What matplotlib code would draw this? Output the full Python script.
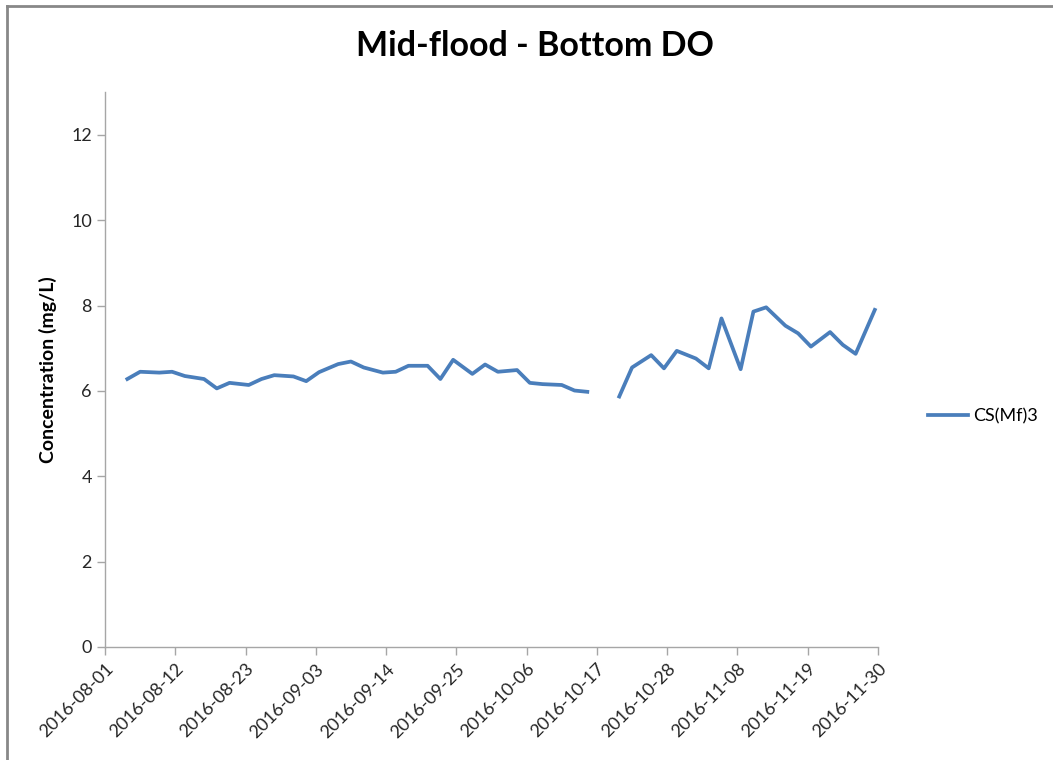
import numpy as np
import pandas as pd
import matplotlib
matplotlib.use("Agg")
import matplotlib.pyplot as plt
import matplotlib.dates as mdates
from matplotlib.lines import Line2D

plt.rcParams['font.family'] = ['Lato', 'DejaVu Sans']

# sampling dates (Tue/Thu/Sat), 2016-10-18 has no value
dates = pd.to_datetime([
    '2016-08-04', '2016-08-06', '2016-08-09', '2016-08-11', '2016-08-13',
    '2016-08-16', '2016-08-18', '2016-08-20', '2016-08-23', '2016-08-25',
    '2016-08-27', '2016-08-30', '2016-09-01', '2016-09-03', '2016-09-06',
    '2016-09-08', '2016-09-10', '2016-09-13', '2016-09-15', '2016-09-17',
    '2016-09-20', '2016-09-22', '2016-09-24', '2016-09-27', '2016-09-29',
    '2016-10-01', '2016-10-04', '2016-10-06', '2016-10-08', '2016-10-11',
    '2016-10-13', '2016-10-15', '2016-10-18', '2016-10-20', '2016-10-22',
    '2016-10-25', '2016-10-27', '2016-10-29', '2016-11-01', '2016-11-03',
    '2016-11-05', '2016-11-08', '2016-11-10', '2016-11-12', '2016-11-15',
    '2016-11-17', '2016-11-19', '2016-11-22', '2016-11-24', '2016-11-26',
    '2016-11-29',
])
do_bottom = np.array([
    6.28, 6.45, 6.43, 6.45, 6.35,
    6.28, 6.06, 6.19, 6.14, 6.28,
    6.37, 6.34, 6.23, 6.44, 6.63,
    6.69, 6.55, 6.43, 6.45, 6.59,
    6.59, 6.28, 6.73, 6.40, 6.62,
    6.45, 6.49, 6.19, 6.16, 6.14,
    6.01, 5.98, np.nan, 5.87, 6.55,
    6.84, 6.53, 6.94, 6.76, 6.53,
    7.70, 6.51, 7.86, 7.96, 7.53,
    7.35, 7.04, 7.38, 7.08, 6.87,
    7.90,
])
series_name = 'CS(Mf)3'
y_ticks = [0, 2, 4, 6, 8, 10, 12]

fig = plt.figure(figsize=(10.53, 7.6), dpi=100)
ax = fig.add_axes([0.0997, 0.1487, 0.7341, 0.7299])

# Excel puts each point in the middle of its day
x = dates + pd.Timedelta(hours=12)
ax.plot(x, do_bottom, color='#4A7EBB', linewidth=2.7, label=series_name)

start, end = pd.Timestamp('2016-08-01'), pd.Timestamp('2016-11-30')
ax.set_xlim(start, end)
ax.set_xticks(pd.date_range(start, end, freq='11D'))
ax.xaxis.set_major_formatter(mdates.DateFormatter('%Y-%m-%d'))
for lbl in ax.get_xticklabels():
    lbl.set_rotation(45)
    lbl.set_ha('right')
    lbl.set_va('top')
    lbl.set_rotation_mode('anchor')

ax.set_ylim(0, 13)
ax.set_yticks(y_ticks)

for s in ['top', 'right']:
    ax.spines[s].set_visible(False)
for s in ['left', 'bottom']:
    ax.spines[s].set_color('#A6A6A6')
    ax.spines[s].set_linewidth(1.0)
ax.tick_params(axis='both', colors='#A6A6A6', labelcolor='#262626',
               labelsize=13, length=6, width=1.0)
ax.tick_params(axis='x', pad=4)

ax.set_ylabel('Concentration (mg/L)', fontsize=14, fontweight='bold', labelpad=10)
fig.text(0.508, 0.94, 'Mid-flood - Bottom DO', fontsize=24.5, fontweight='bold',
         ha='center', va='center')

ax.legend(loc='center left', bbox_to_anchor=(0.866, 0.452), bbox_transform=fig.transFigure,
          frameon=False, fontsize=13, handlelength=2.2, handletextpad=0.3)

# chart border
fig.add_artist(Line2D([0.0066, 0.0066], [0.0, 0.9925], color='#888888', linewidth=2))
fig.add_artist(Line2D([0.0066, 1.0], [0.9925, 0.9925], color='#888888', linewidth=2))

fig.savefig('out.png', dpi=100)
